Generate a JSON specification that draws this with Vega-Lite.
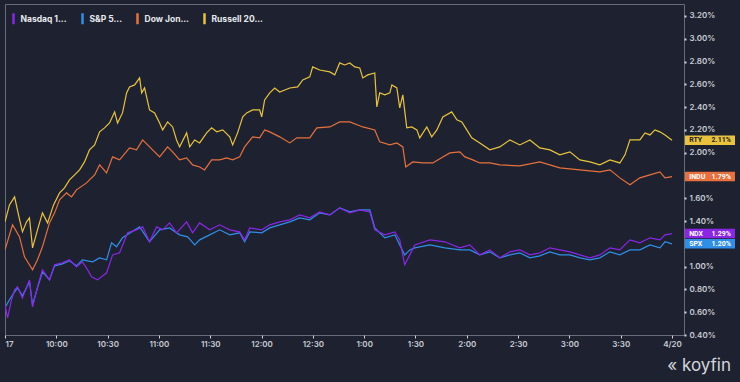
{
  "$schema": "https://vega.github.io/schema/vega-lite/v6.json",
  "width": 679,
  "height": 331,
  "autosize": {"type": "none"},
  "padding": {"left": 5, "top": 4, "right": 56, "bottom": 47},
  "background": "#1e2230",
  "config": {
    "view": {"stroke": "#676c79", "strokeWidth": 1},
    "font": "Inter",
    "axis": {"grid": false, "domain": false, "labelColor": "#c9ccd3", "labelFont": "Inter", "labelFontSize": 8, "labelFontWeight": 600, "tickColor": "#d0d3da", "tickSize": 3, "title": null, "labelOverlap": false}
  },
  "title": {"text": "« koyfin", "orient": "bottom", "anchor": "end", "frame": "bounds", "fontSize": 17, "fontWeight": "normal", "color": "#d3d6dc", "font": "Inter", "offset": 10, "dx": -4},
  "datasets": {
    "series": [
      {"s":"Russell 2000","t":0,"v":1.393},{"s":"Russell 2000","t":2.6,"v":1.542},{"s":"Russell 2000","t":5.6,"v":1.612},{"s":"Russell 2000","t":7.9,"v":1.454},{"s":"Russell 2000","t":10.2,"v":1.305},{"s":"Russell 2000","t":12.6,"v":1.393},{"s":"Russell 2000","t":14.3,"v":1.428},{"s":"Russell 2000","t":16.1,"v":1.165},{"s":"Russell 2000","t":19.0,"v":1.323},{"s":"Russell 2000","t":21.9,"v":1.472},{"s":"Russell 2000","t":24.9,"v":1.384},{"s":"Russell 2000","t":28.4,"v":1.542},{"s":"Russell 2000","t":31.9,"v":1.647},{"s":"Russell 2000","t":34.8,"v":1.691},{"s":"Russell 2000","t":37.7,"v":1.761},{"s":"Russell 2000","t":40.7,"v":1.805},{"s":"Russell 2000","t":43.6,"v":1.849},{"s":"Russell 2000","t":46.5,"v":1.919},{"s":"Russell 2000","t":49.4,"v":2.025},{"s":"Russell 2000","t":52.4,"v":2.068},{"s":"Russell 2000","t":55.3,"v":2.183},{"s":"Russell 2000","t":58.2,"v":2.218},{"s":"Russell 2000","t":61.1,"v":2.261},{"s":"Russell 2000","t":64.1,"v":2.358},{"s":"Russell 2000","t":65.8,"v":2.261},{"s":"Russell 2000","t":68.7,"v":2.349},{"s":"Russell 2000","t":71.1,"v":2.525},{"s":"Russell 2000","t":72.8,"v":2.577},{"s":"Russell 2000","t":75.8,"v":2.595},{"s":"Russell 2000","t":78.7,"v":2.656},{"s":"Russell 2000","t":79.9,"v":2.525},{"s":"Russell 2000","t":81.6,"v":2.568},{"s":"Russell 2000","t":84.5,"v":2.375},{"s":"Russell 2000","t":87.5,"v":2.349},{"s":"Russell 2000","t":90.4,"v":2.261},{"s":"Russell 2000","t":92.2,"v":2.2},{"s":"Russell 2000","t":95.1,"v":2.27},{"s":"Russell 2000","t":98.0,"v":2.226},{"s":"Russell 2000","t":100.3,"v":2.112},{"s":"Russell 2000","t":102.1,"v":2.051},{"s":"Russell 2000","t":106.2,"v":2.174},{"s":"Russell 2000","t":108.0,"v":2.051},{"s":"Russell 2000","t":110.9,"v":2.112},{"s":"Russell 2000","t":113.8,"v":2.086},{"s":"Russell 2000","t":117.9,"v":2.174},{"s":"Russell 2000","t":120.8,"v":2.218},{"s":"Russell 2000","t":123.8,"v":2.183},{"s":"Russell 2000","t":127.3,"v":2.2},{"s":"Russell 2000","t":131.4,"v":2.139},{"s":"Russell 2000","t":133.1,"v":2.068},{"s":"Russell 2000","t":136.0,"v":2.174},{"s":"Russell 2000","t":139.0,"v":2.314},{"s":"Russell 2000","t":141.3,"v":2.349},{"s":"Russell 2000","t":144.8,"v":2.375},{"s":"Russell 2000","t":148.9,"v":2.375},{"s":"Russell 2000","t":150.1,"v":2.314},{"s":"Russell 2000","t":151.8,"v":2.463},{"s":"Russell 2000","t":154.8,"v":2.525},{"s":"Russell 2000","t":157.7,"v":2.568},{"s":"Russell 2000","t":160.6,"v":2.533},{"s":"Russell 2000","t":166.5,"v":2.568},{"s":"Russell 2000","t":171.1,"v":2.577},{"s":"Russell 2000","t":174.1,"v":2.639},{"s":"Russell 2000","t":178.2,"v":2.665},{"s":"Russell 2000","t":179.9,"v":2.753},{"s":"Russell 2000","t":184.0,"v":2.726},{"s":"Russell 2000","t":189.9,"v":2.709},{"s":"Russell 2000","t":192.8,"v":2.683},{"s":"Russell 2000","t":195.7,"v":2.788},{"s":"Russell 2000","t":198.6,"v":2.77},{"s":"Russell 2000","t":201.6,"v":2.788},{"s":"Russell 2000","t":204.5,"v":2.753},{"s":"Russell 2000","t":207.4,"v":2.744},{"s":"Russell 2000","t":209.2,"v":2.656},{"s":"Russell 2000","t":212.1,"v":2.683},{"s":"Russell 2000","t":216.2,"v":2.7},{"s":"Russell 2000","t":217.4,"v":2.402},{"s":"Russell 2000","t":219.1,"v":2.525},{"s":"Russell 2000","t":222.1,"v":2.507},{"s":"Russell 2000","t":225.0,"v":2.525},{"s":"Russell 2000","t":226.2,"v":2.595},{"s":"Russell 2000","t":229.1,"v":2.568},{"s":"Russell 2000","t":230.8,"v":2.393},{"s":"Russell 2000","t":232.6,"v":2.507},{"s":"Russell 2000","t":234.9,"v":2.218},{"s":"Russell 2000","t":237.8,"v":2.226},{"s":"Russell 2000","t":240.8,"v":2.2},{"s":"Russell 2000","t":242.5,"v":2.13},{"s":"Russell 2000","t":246.6,"v":2.226},{"s":"Russell 2000","t":249.5,"v":2.139},{"s":"Russell 2000","t":252.5,"v":2.2},{"s":"Russell 2000","t":256.0,"v":2.314},{"s":"Russell 2000","t":261.2,"v":2.358},{"s":"Russell 2000","t":264.2,"v":2.288},{"s":"Russell 2000","t":267.1,"v":2.27},{"s":"Russell 2000","t":270.0,"v":2.2},{"s":"Russell 2000","t":272.9,"v":2.13},{"s":"Russell 2000","t":277.6,"v":2.086},{"s":"Russell 2000","t":283.5,"v":2.025},{"s":"Russell 2000","t":289.3,"v":2.051},{"s":"Russell 2000","t":295.2,"v":2.112},{"s":"Russell 2000","t":301.0,"v":2.068},{"s":"Russell 2000","t":306.9,"v":2.112},{"s":"Russell 2000","t":312.7,"v":2.042},{"s":"Russell 2000","t":318.6,"v":2.025},{"s":"Russell 2000","t":324.4,"v":1.981},{"s":"Russell 2000","t":330.3,"v":2.007},{"s":"Russell 2000","t":336.1,"v":1.937},{"s":"Russell 2000","t":342.0,"v":1.919},{"s":"Russell 2000","t":347.8,"v":1.893},{"s":"Russell 2000","t":353.7,"v":1.937},{"s":"Russell 2000","t":359.5,"v":1.91},{"s":"Russell 2000","t":362.5,"v":1.981},{"s":"Russell 2000","t":365.4,"v":2.112},{"s":"Russell 2000","t":371.2,"v":2.112},{"s":"Russell 2000","t":374.2,"v":2.174},{"s":"Russell 2000","t":377.1,"v":2.156},{"s":"Russell 2000","t":380.0,"v":2.2},{"s":"Russell 2000","t":382.9,"v":2.183},{"s":"Russell 2000","t":385.9,"v":2.156},{"s":"Russell 2000","t":390.0,"v":2.11},

      {"s":"Dow Jones","t":0,"v":1.147},{"s":"Dow Jones","t":4.4,"v":1.367},{"s":"Dow Jones","t":8.5,"v":1.261},{"s":"Dow Jones","t":11.4,"v":1.086},{"s":"Dow Jones","t":16.1,"v":0.972},{"s":"Dow Jones","t":19.0,"v":1.06},{"s":"Dow Jones","t":21.9,"v":1.174},{"s":"Dow Jones","t":26.0,"v":1.384},{"s":"Dow Jones","t":29.0,"v":1.472},{"s":"Dow Jones","t":31.9,"v":1.586},{"s":"Dow Jones","t":36.0,"v":1.647},{"s":"Dow Jones","t":38.9,"v":1.612},{"s":"Dow Jones","t":41.8,"v":1.674},{"s":"Dow Jones","t":47.7,"v":1.735},{"s":"Dow Jones","t":49.4,"v":1.761},{"s":"Dow Jones","t":52.4,"v":1.805},{"s":"Dow Jones","t":55.3,"v":1.893},{"s":"Dow Jones","t":59.4,"v":1.823},{"s":"Dow Jones","t":62.9,"v":1.963},{"s":"Dow Jones","t":67.0,"v":1.937},{"s":"Dow Jones","t":72.8,"v":2.042},{"s":"Dow Jones","t":76.9,"v":2.025},{"s":"Dow Jones","t":80.5,"v":2.112},{"s":"Dow Jones","t":83.4,"v":2.068},{"s":"Dow Jones","t":86.3,"v":2.025},{"s":"Dow Jones","t":90.4,"v":1.963},{"s":"Dow Jones","t":95.1,"v":2.051},{"s":"Dow Jones","t":98.0,"v":2.007},{"s":"Dow Jones","t":102.1,"v":1.937},{"s":"Dow Jones","t":106.2,"v":1.954},{"s":"Dow Jones","t":109.7,"v":1.893},{"s":"Dow Jones","t":113.8,"v":1.875},{"s":"Dow Jones","t":116.7,"v":1.849},{"s":"Dow Jones","t":120.8,"v":1.937},{"s":"Dow Jones","t":125.5,"v":1.937},{"s":"Dow Jones","t":129.6,"v":1.954},{"s":"Dow Jones","t":133.1,"v":1.937},{"s":"Dow Jones","t":137.2,"v":1.963},{"s":"Dow Jones","t":140.1,"v":2.051},{"s":"Dow Jones","t":144.8,"v":2.139},{"s":"Dow Jones","t":148.9,"v":2.13},{"s":"Dow Jones","t":151.8,"v":2.2},{"s":"Dow Jones","t":154.8,"v":2.183},{"s":"Dow Jones","t":160.6,"v":2.139},{"s":"Dow Jones","t":166.5,"v":2.086},{"s":"Dow Jones","t":170.6,"v":2.13},{"s":"Dow Jones","t":178.2,"v":2.13},{"s":"Dow Jones","t":182.3,"v":2.218},{"s":"Dow Jones","t":189.9,"v":2.226},{"s":"Dow Jones","t":195.7,"v":2.27},{"s":"Dow Jones","t":201.6,"v":2.27},{"s":"Dow Jones","t":209.2,"v":2.226},{"s":"Dow Jones","t":216.2,"v":2.2},{"s":"Dow Jones","t":219.1,"v":2.095},{"s":"Dow Jones","t":225.0,"v":2.068},{"s":"Dow Jones","t":229.1,"v":2.086},{"s":"Dow Jones","t":232.6,"v":2.051},{"s":"Dow Jones","t":234.3,"v":1.875},{"s":"Dow Jones","t":238.4,"v":1.919},{"s":"Dow Jones","t":244.3,"v":1.91},{"s":"Dow Jones","t":250.1,"v":1.91},{"s":"Dow Jones","t":256.0,"v":1.963},{"s":"Dow Jones","t":260.1,"v":1.998},{"s":"Dow Jones","t":265.9,"v":2.007},{"s":"Dow Jones","t":268.9,"v":1.963},{"s":"Dow Jones","t":273.5,"v":1.937},{"s":"Dow Jones","t":277.6,"v":1.91},{"s":"Dow Jones","t":283.5,"v":1.91},{"s":"Dow Jones","t":289.3,"v":1.893},{"s":"Dow Jones","t":301.0,"v":1.884},{"s":"Dow Jones","t":312.7,"v":1.919},{"s":"Dow Jones","t":324.4,"v":1.867},{"s":"Dow Jones","t":336.1,"v":1.849},{"s":"Dow Jones","t":347.8,"v":1.832},{"s":"Dow Jones","t":353.7,"v":1.849},{"s":"Dow Jones","t":359.5,"v":1.779},{"s":"Dow Jones","t":365.4,"v":1.718},{"s":"Dow Jones","t":371.2,"v":1.779},{"s":"Dow Jones","t":377.1,"v":1.805},{"s":"Dow Jones","t":382.9,"v":1.832},{"s":"Dow Jones","t":385.9,"v":1.779},{"s":"Dow Jones","t":390.0,"v":1.79},

      {"s":"S&P 500","t":0,"v":0.639},{"s":"S&P 500","t":2.6,"v":0.709},{"s":"S&P 500","t":5.6,"v":0.779},{"s":"S&P 500","t":7.3,"v":0.814},{"s":"S&P 500","t":10.2,"v":0.744},{"s":"S&P 500","t":14.3,"v":0.867},{"s":"S&P 500","t":16.1,"v":0.665},{"s":"S&P 500","t":19.0,"v":0.814},{"s":"S&P 500","t":21.9,"v":0.954},{"s":"S&P 500","t":26.0,"v":0.884},{"s":"S&P 500","t":29.0,"v":1.007},{"s":"S&P 500","t":33.6,"v":1.024},{"s":"S&P 500","t":37.7,"v":1.051},{"s":"S&P 500","t":41.8,"v":1.007},{"s":"S&P 500","t":45.3,"v":1.06},{"s":"S&P 500","t":51.2,"v":1.042},{"s":"S&P 500","t":55.3,"v":1.077},{"s":"S&P 500","t":59.4,"v":1.06},{"s":"S&P 500","t":62.3,"v":1.209},{"s":"S&P 500","t":65.2,"v":1.174},{"s":"S&P 500","t":68.7,"v":1.253},{"s":"S&P 500","t":74.0,"v":1.305},{"s":"S&P 500","t":78.7,"v":1.349},{"s":"S&P 500","t":84.5,"v":1.218},{"s":"S&P 500","t":90.4,"v":1.323},{"s":"S&P 500","t":96.2,"v":1.34},{"s":"S&P 500","t":102.1,"v":1.279},{"s":"S&P 500","t":106.8,"v":1.261},{"s":"S&P 500","t":110.9,"v":1.191},{"s":"S&P 500","t":113.8,"v":1.235},{"s":"S&P 500","t":119.7,"v":1.279},{"s":"S&P 500","t":125.5,"v":1.323},{"s":"S&P 500","t":131.4,"v":1.279},{"s":"S&P 500","t":137.2,"v":1.297},{"s":"S&P 500","t":140.1,"v":1.218},{"s":"S&P 500","t":143.1,"v":1.305},{"s":"S&P 500","t":150.1,"v":1.297},{"s":"S&P 500","t":154.8,"v":1.34},{"s":"S&P 500","t":160.6,"v":1.367},{"s":"S&P 500","t":166.5,"v":1.393},{"s":"S&P 500","t":172.3,"v":1.428},{"s":"S&P 500","t":178.2,"v":1.411},{"s":"S&P 500","t":184.0,"v":1.472},{"s":"S&P 500","t":189.9,"v":1.454},{"s":"S&P 500","t":195.7,"v":1.516},{"s":"S&P 500","t":201.6,"v":1.481},{"s":"S&P 500","t":207.4,"v":1.498},{"s":"S&P 500","t":213.3,"v":1.498},{"s":"S&P 500","t":216.2,"v":1.34},{"s":"S&P 500","t":222.1,"v":1.253},{"s":"S&P 500","t":227.9,"v":1.279},{"s":"S&P 500","t":230.8,"v":1.191},{"s":"S&P 500","t":233.7,"v":1.103},{"s":"S&P 500","t":236.7,"v":1.147},{"s":"S&P 500","t":239.6,"v":1.165},{"s":"S&P 500","t":248.4,"v":1.191},{"s":"S&P 500","t":257.2,"v":1.165},{"s":"S&P 500","t":265.9,"v":1.147},{"s":"S&P 500","t":271.8,"v":1.147},{"s":"S&P 500","t":277.6,"v":1.103},{"s":"S&P 500","t":283.5,"v":1.13},{"s":"S&P 500","t":289.3,"v":1.077},{"s":"S&P 500","t":295.2,"v":1.103},{"s":"S&P 500","t":301.0,"v":1.121},{"s":"S&P 500","t":306.9,"v":1.077},{"s":"S&P 500","t":312.7,"v":1.095},{"s":"S&P 500","t":318.6,"v":1.13},{"s":"S&P 500","t":324.4,"v":1.103},{"s":"S&P 500","t":330.3,"v":1.103},{"s":"S&P 500","t":336.1,"v":1.077},{"s":"S&P 500","t":342.0,"v":1.06},{"s":"S&P 500","t":347.8,"v":1.077},{"s":"S&P 500","t":353.7,"v":1.13},{"s":"S&P 500","t":359.5,"v":1.103},{"s":"S&P 500","t":365.4,"v":1.147},{"s":"S&P 500","t":371.2,"v":1.147},{"s":"S&P 500","t":377.1,"v":1.191},{"s":"S&P 500","t":382.9,"v":1.165},{"s":"S&P 500","t":385.9,"v":1.218},{"s":"S&P 500","t":390.0,"v":1.2},

      {"s":"Nasdaq 100","t":0,"v":0.665},{"s":"Nasdaq 100","t":1.5,"v":0.551},{"s":"Nasdaq 100","t":3.8,"v":0.709},{"s":"Nasdaq 100","t":5.6,"v":0.797},{"s":"Nasdaq 100","t":7.3,"v":0.823},{"s":"Nasdaq 100","t":10.2,"v":0.726},{"s":"Nasdaq 100","t":14.3,"v":0.884},{"s":"Nasdaq 100","t":16.1,"v":0.647},{"s":"Nasdaq 100","t":19.0,"v":0.823},{"s":"Nasdaq 100","t":21.9,"v":0.972},{"s":"Nasdaq 100","t":26.0,"v":0.884},{"s":"Nasdaq 100","t":29.0,"v":1.016},{"s":"Nasdaq 100","t":33.6,"v":1.033},{"s":"Nasdaq 100","t":37.7,"v":1.06},{"s":"Nasdaq 100","t":41.8,"v":0.998},{"s":"Nasdaq 100","t":45.3,"v":1.042},{"s":"Nasdaq 100","t":48.3,"v":0.972},{"s":"Nasdaq 100","t":50.6,"v":0.911},{"s":"Nasdaq 100","t":54.1,"v":0.884},{"s":"Nasdaq 100","t":59.4,"v":0.946},{"s":"Nasdaq 100","t":62.9,"v":1.103},{"s":"Nasdaq 100","t":67.0,"v":1.121},{"s":"Nasdaq 100","t":71.7,"v":1.297},{"s":"Nasdaq 100","t":76.9,"v":1.323},{"s":"Nasdaq 100","t":80.5,"v":1.349},{"s":"Nasdaq 100","t":84.5,"v":1.218},{"s":"Nasdaq 100","t":88.6,"v":1.349},{"s":"Nasdaq 100","t":92.2,"v":1.323},{"s":"Nasdaq 100","t":96.2,"v":1.384},{"s":"Nasdaq 100","t":100.3,"v":1.297},{"s":"Nasdaq 100","t":106.2,"v":1.393},{"s":"Nasdaq 100","t":109.7,"v":1.297},{"s":"Nasdaq 100","t":113.8,"v":1.384},{"s":"Nasdaq 100","t":119.7,"v":1.323},{"s":"Nasdaq 100","t":125.5,"v":1.367},{"s":"Nasdaq 100","t":131.4,"v":1.323},{"s":"Nasdaq 100","t":137.2,"v":1.305},{"s":"Nasdaq 100","t":140.1,"v":1.235},{"s":"Nasdaq 100","t":143.1,"v":1.34},{"s":"Nasdaq 100","t":150.1,"v":1.323},{"s":"Nasdaq 100","t":154.8,"v":1.367},{"s":"Nasdaq 100","t":160.6,"v":1.393},{"s":"Nasdaq 100","t":166.5,"v":1.411},{"s":"Nasdaq 100","t":172.3,"v":1.454},{"s":"Nasdaq 100","t":178.2,"v":1.428},{"s":"Nasdaq 100","t":184.0,"v":1.481},{"s":"Nasdaq 100","t":189.9,"v":1.454},{"s":"Nasdaq 100","t":195.7,"v":1.516},{"s":"Nasdaq 100","t":201.6,"v":1.472},{"s":"Nasdaq 100","t":207.4,"v":1.498},{"s":"Nasdaq 100","t":213.3,"v":1.481},{"s":"Nasdaq 100","t":216.2,"v":1.323},{"s":"Nasdaq 100","t":222.1,"v":1.279},{"s":"Nasdaq 100","t":227.9,"v":1.305},{"s":"Nasdaq 100","t":230.8,"v":1.235},{"s":"Nasdaq 100","t":233.7,"v":1.016},{"s":"Nasdaq 100","t":236.7,"v":1.103},{"s":"Nasdaq 100","t":239.6,"v":1.191},{"s":"Nasdaq 100","t":248.4,"v":1.235},{"s":"Nasdaq 100","t":257.2,"v":1.218},{"s":"Nasdaq 100","t":265.9,"v":1.165},{"s":"Nasdaq 100","t":271.8,"v":1.191},{"s":"Nasdaq 100","t":277.6,"v":1.103},{"s":"Nasdaq 100","t":283.5,"v":1.147},{"s":"Nasdaq 100","t":289.3,"v":1.077},{"s":"Nasdaq 100","t":295.2,"v":1.13},{"s":"Nasdaq 100","t":301.0,"v":1.147},{"s":"Nasdaq 100","t":306.9,"v":1.103},{"s":"Nasdaq 100","t":312.7,"v":1.121},{"s":"Nasdaq 100","t":318.6,"v":1.165},{"s":"Nasdaq 100","t":324.4,"v":1.147},{"s":"Nasdaq 100","t":330.3,"v":1.13},{"s":"Nasdaq 100","t":336.1,"v":1.103},{"s":"Nasdaq 100","t":342.0,"v":1.077},{"s":"Nasdaq 100","t":347.8,"v":1.103},{"s":"Nasdaq 100","t":353.7,"v":1.165},{"s":"Nasdaq 100","t":359.5,"v":1.147},{"s":"Nasdaq 100","t":365.4,"v":1.235},{"s":"Nasdaq 100","t":371.2,"v":1.209},{"s":"Nasdaq 100","t":377.1,"v":1.253},{"s":"Nasdaq 100","t":382.9,"v":1.235},{"s":"Nasdaq 100","t":385.9,"v":1.279},{"s":"Nasdaq 100","t":390.0,"v":1.29}
    ],
    "ends": [
      {"s":"Russell 2000","ticker":"RTY","v":2.11,"label":"2.11%"},
      {"s":"Dow Jones","ticker":"INDU","v":1.79,"label":"1.79%"},
      {"s":"Nasdaq 100","ticker":"NDX","v":1.29,"label":"1.29%"},
      {"s":"S&P 500","ticker":"SPX","v":1.2,"label":"1.20%"}
    ]
  },
  "encoding": {
    "y": {"field": "v", "type": "quantitative", "scale": {"domain": [0.4, 3.305], "nice": false, "zero": false},
      "axis": {"orient": "right", "values": [0.4,0.6,0.8,1.0,1.4,1.6,2.0,2.2,2.4,2.6,2.8,3.0,3.2], "labelPadding": 3, "tickSize": 2, "tickWidth": 2, "labelOverlap": false, "labelBound": false,
        "labelExpr": "format(datum.value, '.2f') + '%'"}}
  },
  "layer": [
    {
      "data": {"name": "series"},
      "mark": {"type": "line", "strokeWidth": 1.2, "clip": true},
      "encoding": {
        "x": {"field": "t", "type": "quantitative", "scale": {"domain": [0, 397], "nice": false, "zero": false},
          "axis": {"orient": "bottom", "values": [0,30,60,90,120,150,180,210,240,270,300,330,360,390], "labelFlush": true, "labelPadding": 2, "labelOverlap": false,
            "labelExpr": "['17','10:00','10:30','11:00','11:30','12:00','12:30','1:00','1:30','2:00','2:30','3:00','3:30','4/20'][round(datum.value/30)]"}},
        "color": {"field": "s", "type": "nominal",
          "scale": {"domain": ["Nasdaq 100", "S&P 500", "Dow Jones", "Russell 2000"], "range": ["#8a26e6", "#2f8ee8", "#e8703c", "#e9c33c"]},
          "legend": {"orient": "none", "legendX": 1.5, "legendY": 7.5, "direction": "horizontal", "columns": 4, "title": null, "padding": 0,
            "symbolType": "M0,-1L0,1", "symbolSize": 121, "symbolStrokeWidth": 2.5, "labelOffset": 0, "columnPadding": 8,
            "labelColor": "#e8eaee", "labelFont": "Inter", "labelFontSize": 8.5, "labelFontWeight": "bold",
            "labelExpr": "datum.label == 'Nasdaq 100' ? 'Nasdaq 1...' : datum.label == 'S&P 500' ? 'S&P 5...' : datum.label == 'Dow Jones' ? 'Dow Jon...' : 'Russell 20...'"}},
        "order": {"field": "t", "type": "quantitative"}
      }
    },
    {
      "data": {"name": "ends"},
      "mark": {"type": "point", "filled": true, "opacity": 1, "size": 2500, "shape": "M-1,-0.19H1V0.19H-1Z", "clip": false},
      "encoding": {
        "x": {"datum": 412.2, "type": "quantitative"},
        "color": {"field": "s", "type": "nominal", "legend": null}
      }
    },
    {
      "data": {"name": "ends"},
      "mark": {"type": "text", "align": "left", "baseline": "middle", "fontSize": 7, "fontWeight": "bold", "font": "Roboto", "clip": false},
      "encoding": {
        "x": {"datum": 400.0, "type": "quantitative"},
        "text": {"field": "ticker"},
        "color": {"condition": {"test": "datum.ticker === 'RTY'", "value": "#1e2230"}, "value": "#ffffff"}
      }
    },
    {
      "data": {"name": "ends"},
      "mark": {"type": "text", "align": "right", "baseline": "middle", "fontSize": 7, "fontWeight": "bold", "font": "Roboto", "clip": false},
      "encoding": {
        "x": {"datum": 424.4, "type": "quantitative"},
        "text": {"field": "label"},
        "color": {"condition": {"test": "datum.ticker === 'RTY'", "value": "#1e2230"}, "value": "#ffffff"}
      }
    }
  ]
}
